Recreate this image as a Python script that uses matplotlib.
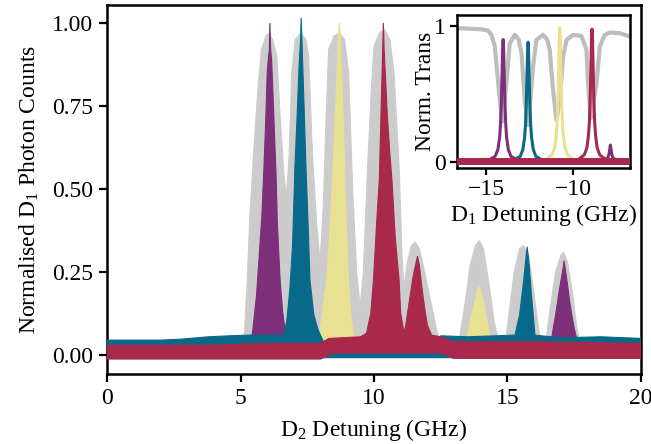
import numpy as np
import matplotlib
matplotlib.use("Agg")
import matplotlib.pyplot as plt

plt.rcParams['font.family'] = ['Liberation Serif', 'DejaVu Serif']
plt.rcParams['mathtext.fontset'] = 'custom'
plt.rcParams['mathtext.rm'] = 'Liberation Serif'
plt.rcParams['mathtext.it'] = 'Liberation Serif:italic'

GRAY = '#CCCCCC'
PURPLE = '#7D2F7A'
TEAL = '#08698A'
YELLOW = '#E8E192'
RED = '#A8294B'

# ---- main panel: D2 scan, upper / lower envelopes of each noisy trace ----
gray_x = [4.9, 5.15, 5.25, 5.35, 5.5, 5.65, 5.78, 5.95, 6.05, 6.2, 6.36, 6.5, 6.62, 6.72,
          6.82, 6.92, 7.05, 7.25, 7.45, 7.55, 7.7, 7.85, 7.98, 8.1, 8.2, 8.3, 8.5,
          8.7, 8.9, 9.05, 9.2, 9.35, 9.48, 9.6, 9.75, 9.9, 10.0, 10.2, 10.4, 10.6,
          10.75, 10.95, 11.05, 11.12, 11.25, 11.4, 11.55, 11.7, 11.9, 12.1, 12.35,
          12.5, 12.7, 13.0, 13.2, 13.4, 13.6, 13.8, 13.95, 14.1, 14.3, 14.5, 14.65,
          14.8, 14.9, 15.05, 15.25, 15.45, 15.6, 15.8, 16.0, 16.2, 16.35, 16.45,
          16.6, 16.8, 17.0, 17.1, 17.25, 17.45, 17.6, 17.75, 17.9]
gray_y = [0.0, 0.07, 0.22, 0.42, 0.62, 0.8, 0.92, 0.96, 0.97, 0.95, 0.9, 0.7, 0.55, 0.48,
          0.6, 0.85, 0.95, 0.97, 0.95, 0.9, 0.6, 0.4, 0.28, 0.45, 0.7, 0.92, 0.96,
          0.97, 0.95, 0.85, 0.5, 0.25, 0.145, 0.25, 0.55, 0.8, 0.93, 0.97, 0.98, 0.95,
          0.85, 0.55, 0.3, 0.2, 0.28, 0.33, 0.34, 0.32, 0.25, 0.17, 0.075,
          0.04, 0.0, 0.0, 0.05, 0.15, 0.27, 0.33, 0.345, 0.32, 0.22, 0.1, 0.05,
          0.0, 0.03, 0.12, 0.25, 0.32, 0.33, 0.3, 0.18, 0.06, 0.02, 0.05,
          0.14, 0.25, 0.3, 0.31, 0.28, 0.18, 0.08, 0.03, 0.0]

purple_x = [5.3, 5.46, 5.6, 5.7, 5.8, 5.88, 5.95, 6.0, 6.04, 6.08, 6.1, 6.13, 6.17,
            6.22, 6.28, 6.33, 6.38, 6.48, 6.58, 6.67, 6.8,
            16.5, 16.65, 16.8, 16.95, 17.08, 17.12, 17.2, 17.35, 17.5, 17.59, 17.7]
purple_y = [0.0, 0.075, 0.18, 0.3, 0.42, 0.57, 0.72, 0.85, 0.89, 0.92, 1.0, 0.92, 0.88,
            0.78, 0.65, 0.55, 0.4, 0.23, 0.13, 0.075, 0.0,
            0.0, 0.05, 0.12, 0.2, 0.26, 0.284, 0.24, 0.15, 0.08, 0.05, 0.0]

yellow_x = [7.8, 7.98, 8.1, 8.23, 8.35, 8.47, 8.58, 8.65, 8.7, 8.75, 8.85, 8.92, 8.97,
            9.04, 9.12, 9.21, 9.35,
            13.35, 13.47, 13.6, 13.75, 13.9, 13.95, 14.05, 14.2, 14.34, 14.45]
yellow_y = [0.0, 0.075, 0.15, 0.226, 0.376, 0.567, 0.78, 0.92, 1.0, 0.92, 0.7, 0.5, 0.376,
            0.226, 0.13, 0.075, 0.0,
            0.0, 0.05, 0.1, 0.15, 0.2, 0.206, 0.18, 0.12, 0.05, 0.0]

teal_x = [0.0, 2.0, 2.8, 3.8, 4.6, 5.3, 6.3,
          6.6, 6.73, 6.85, 6.95, 7.04, 7.12, 7.2, 7.25, 7.27, 7.3, 7.36, 7.45, 7.54,
          7.6, 7.75, 7.91, 8.05, 8.3, 9.4, 9.6, 9.75, 12.3, 12.5, 13.5,
          15.28, 15.45, 15.6, 15.7, 15.74, 15.8, 15.9, 16.03, 17.0, 18.5, 20.0]
teal_y = [0.045, 0.045, 0.048, 0.055, 0.058, 0.06, 0.06,
          0.06, 0.1, 0.2, 0.33, 0.57, 0.72, 0.88, 0.95, 1.015, 0.95, 0.8, 0.57, 0.376,
          0.226, 0.12, 0.075, 0.05, 0.01, 0.01, 0.055, 0.01, 0.01, 0.058, 0.055,
          0.06, 0.12, 0.22, 0.3, 0.326, 0.28, 0.18, 0.06, 0.052, 0.055, 0.05]
teal_lo_x = [0.0, 20.0]
teal_lo_y = [-0.008, -0.008]

red_x = [0.0, 2.0, 4.0, 6.0, 8.0, 8.3, 9.5, 9.72, 9.88, 9.98, 10.1, 10.2, 10.27, 10.32,
         10.35, 10.38, 10.5, 10.6, 10.67, 10.8, 10.94, 11.0, 11.1, 11.16, 11.3, 11.45,
         11.55, 11.63, 11.7, 11.8, 11.9, 12.0, 12.16, 12.5, 13.0, 16.0, 20.0]
red_y = [0.03, 0.03, 0.03, 0.035, 0.035, 0.05, 0.055, 0.066, 0.126, 0.226, 0.4, 0.53, 0.75,
         0.9, 1.0, 0.92, 0.72, 0.6, 0.53, 0.35, 0.226, 0.126, 0.08, 0.075, 0.15, 0.23,
         0.27, 0.298, 0.27, 0.2, 0.14, 0.09, 0.06, 0.055, 0.04, 0.04, 0.035]
red_lo_x = [0.0, 8.0, 8.5, 12.5, 13.0, 20.0]
red_lo_y = [-0.012, -0.012, 0.006, 0.006, -0.01, -0.01]

# ---- inset: D1 transmission and filtered peaks ----
tr_x = [-16.72, -16.0, -15.3, -14.9, -14.7, -14.52, -14.27, -14.08, -13.85, -13.66,
        -13.37, -13.15, -12.98, -12.79, -12.6, -12.31, -12.12, -11.73, -11.5, -11.35,
        -11.16, -10.96, -10.77, -10.58, -10.38, -10.0, -9.52, -9.23, -9.14, -8.98,
        -8.65, -8.46, -8.17, -7.89, -7.3, -6.72]
tr_y = [0.983, 0.98, 0.975, 0.965, 0.93, 0.85, 0.504, 0.295, 0.578, 0.87,
        0.934, 0.9, 0.8, 0.455, 0.27, 0.7, 0.897, 0.934, 0.9, 0.823,
        0.528, 0.307, 0.455, 0.774, 0.897, 0.934, 0.926, 0.823, 0.58, 0.32,
        0.58, 0.85, 0.934, 0.951, 0.946, 0.921]

in_purple_x = [-16.72, -14.9, -14.5, -14.34, -14.24, -14.19, -14.14, -14.1, -14.07, -14.04,
               -14.01, -13.98, -13.94, -13.89, -13.84, -13.74, -13.59, -13.2,
               -8.2, -8.0, -7.92, -7.88, -7.85, -7.82, -7.78, -7.7, -7.5, -6.72]
in_purple_y = [0.0, 0.01, 0.04, 0.09, 0.18, 0.28, 0.45, 0.66, 0.83, 0.90,
               0.83, 0.66, 0.45, 0.28, 0.18, 0.09, 0.04, 0.01,
               0.01, 0.03, 0.06, 0.1, 0.123, 0.1, 0.06, 0.03, 0.01, 0.0]
in_teal_x = [-16.72, -13.46, -13.05, -12.9, -12.8, -12.75, -12.7, -12.66, -12.63, -12.6,
             -12.57, -12.54, -12.5, -12.45, -12.4, -12.3, -12.15, -11.74, -6.72]
in_teal_y = [0.0, 0.01, 0.04, 0.09, 0.18, 0.27, 0.44, 0.65, 0.81, 0.88,
             0.81, 0.65, 0.44, 0.27, 0.18, 0.09, 0.04, 0.01, 0.0]
in_yellow_x = [-16.72, -11.63, -11.22, -11.07, -10.97, -10.92, -10.87, -10.83, -10.8, -10.77,
               -10.74, -10.71, -10.67, -10.62, -10.57, -10.47, -10.32, -9.91, -6.72]
in_yellow_y = [0.0, 0.01, 0.05, 0.1, 0.2, 0.3, 0.49, 0.72, 0.9, 0.985,
               0.9, 0.72, 0.49, 0.3, 0.2, 0.1, 0.05, 0.01, 0.0]
in_red_x = [-16.72, -9.77, -9.36, -9.21, -9.11, -9.06, -9.01, -8.97, -8.94, -8.91,
            -8.88, -8.85, -8.81, -8.76, -8.71, -8.61, -8.46, -8.05, -6.72]
in_red_y = [0.0, 0.01, 0.05, 0.1, 0.2, 0.3, 0.49, 0.72, 0.9, 0.976,
            0.9, 0.72, 0.49, 0.3, 0.2, 0.1, 0.05, 0.01, 0.0]


def band(ax, x_hi, y_hi, x_lo, y_lo, color, z):
    # polygon: upper envelope left->right, lower envelope back right->left
    xs = np.concatenate([x_hi, np.asarray(x_lo)[::-1]])
    ys = np.concatenate([y_hi, np.asarray(y_lo)[::-1]])
    ax.fill(xs, ys, color=color, lw=0.8, ec=color, zorder=z)


fig = plt.figure(figsize=(6.51, 4.44), dpi=100)
ax = fig.add_axes([0.1644, 0.1577, 0.8202, 0.8310])

band(ax, gray_x, gray_y, [gray_x[0], gray_x[-1]], [0.0, 0.0], GRAY, 1)
band(ax, purple_x, purple_y, [purple_x[0], purple_x[-1]], [0.0, 0.0], PURPLE, 2)
band(ax, yellow_x, yellow_y, [yellow_x[0], yellow_x[-1]], [0.0, 0.0], YELLOW, 3)
band(ax, teal_x, teal_y, teal_lo_x, teal_lo_y, TEAL, 4)
band(ax, red_x, red_y, red_lo_x, red_lo_y, RED, 5)

ax.set_xlim(0, 20)
ax.set_ylim(-0.057, 1.054)
ax.set_xticks([0, 5, 10, 15, 20])
ax.set_yticks([0.0, 0.25, 0.5, 0.75, 1.0])
ax.set_yticklabels(['0.00', '0.25', '0.50', '0.75', '1.00'])
ax.tick_params(direction='out', length=6, width=1.6, labelsize=17, pad=4)
for s in ax.spines.values():
    s.set_linewidth(1.8)
ax.set_xlabel('D$_2$ Detuning (GHz)', fontsize=17, labelpad=6)
ax.set_ylabel('Normalised D$_1$ Photon Counts', fontsize=17, labelpad=8)

ins = fig.add_axes([0.7015, 0.6216, 0.2662, 0.3446])
ins.plot(tr_x, tr_y, color='#BDBDBD', lw=3, zorder=1)
ins.plot(in_purple_x, in_purple_y, color=PURPLE, lw=2.2, zorder=2)
ins.plot(in_teal_x, in_teal_y, color=TEAL, lw=2.2, zorder=3)
ins.plot(in_yellow_x, in_yellow_y, color=YELLOW, lw=2.2, zorder=4)
ins.plot(in_red_x, in_red_y, color=RED, lw=2.2, zorder=5)
ins.fill_between([-16.72, -6.72], [-0.022, -0.022], [0.024, 0.024], color=RED, lw=0, zorder=5)
ins.set_xlim(-16.72, -6.72)
ins.set_ylim(-0.046, 1.08)
ins.set_xticks([-15, -10])
ins.set_yticks([0, 1])
ins.tick_params(direction='out', length=5, width=1.6, labelsize=17, pad=3)
for s in ins.spines.values():
    s.set_linewidth(1.8)
ins.set_xlabel('D$_1$ Detuning (GHz)', fontsize=17, labelpad=1)
ins.set_ylabel('Norm. Trans', fontsize=17, labelpad=-2)

fig.savefig('out.png', dpi=100)
